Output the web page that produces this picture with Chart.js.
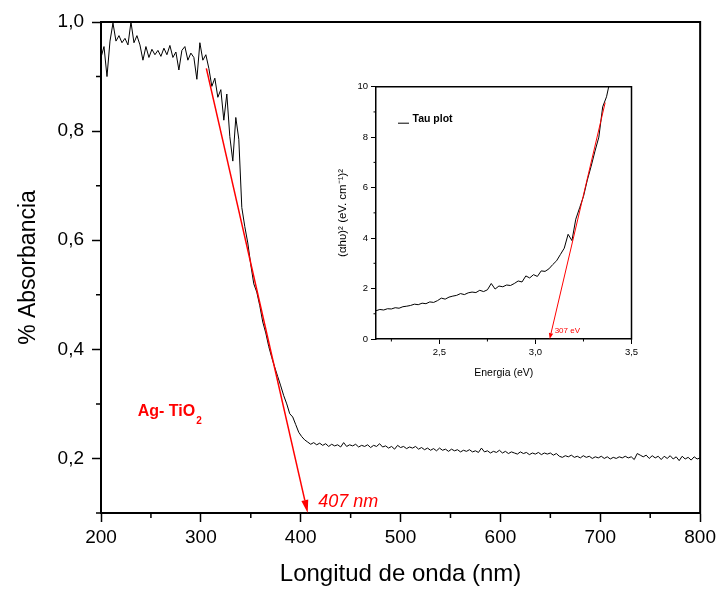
<!DOCTYPE html>
<html lang="es">
<head>
<meta charset="utf-8">
<title>Absorbancia Ag-TiO2</title>
<style>
  * { margin: 0; padding: 0; }
  body { background: #fff; width: 720px; height: 590px; position: relative; overflow: hidden; }
  #main { position: absolute; left: 0; top: 0; }
  #inset { position: absolute; left: 330px; top: 78px; }
</style>
</head>
<body>
<canvas id="main" width="720" height="590"></canvas>
<canvas id="inset" width="315" height="305"></canvas>
<script src="https://cdn.jsdelivr.net/npm/chart.js"></script>
<script>
const FONT = "'Liberation Sans', Arial, sans-serif";

// main spectrum: one reading every 3 nm from 200 nm
const wlStart = 200;
const wlStep = 3;
const absorbancia = [
  0.935, 0.955, 0.900, 0.965, 0.998, 0.965, 0.975, 0.962, 0.970, 0.958,
  1.000, 0.962, 0.975, 0.958, 0.930, 0.955, 0.935, 0.950, 0.940, 0.948,
  0.937, 0.952, 0.940, 0.957, 0.935, 0.945, 0.912, 0.948, 0.955, 0.930,
  0.943, 0.935, 0.895, 0.962, 0.930, 0.940, 0.915, 0.882, 0.897, 0.862,
  0.876, 0.820, 0.868, 0.790, 0.745, 0.825, 0.785, 0.660, 0.625, 0.595,
  0.555, 0.520, 0.505, 0.480, 0.450, 0.430, 0.405, 0.385, 0.367, 0.350,
  0.333, 0.315, 0.300, 0.282, 0.276, 0.262, 0.248, 0.240, 0.234, 0.230,
  0.226, 0.229, 0.225, 0.228, 0.224, 0.227, 0.222, 0.226, 0.223, 0.225,
  0.221, 0.229, 0.222, 0.225, 0.223, 0.226, 0.221, 0.224, 0.222, 0.225,
  0.220, 0.224, 0.222, 0.227, 0.221, 0.223, 0.219, 0.222, 0.217, 0.224,
  0.220, 0.222, 0.218, 0.221, 0.219, 0.222, 0.217, 0.220, 0.216, 0.219,
  0.215, 0.218, 0.214, 0.219, 0.215, 0.217, 0.213, 0.217, 0.214, 0.216,
  0.212, 0.215, 0.213, 0.216, 0.212, 0.214, 0.211, 0.219, 0.212, 0.214,
  0.210, 0.213, 0.211, 0.215, 0.210, 0.213, 0.209, 0.212, 0.210, 0.208,
  0.212, 0.209, 0.211, 0.207, 0.210, 0.208, 0.211, 0.207, 0.210, 0.208,
  0.210, 0.206, 0.209, 0.204, 0.202, 0.205, 0.203, 0.206, 0.202, 0.204,
  0.201, 0.205, 0.202, 0.204, 0.200, 0.203, 0.201, 0.204, 0.200, 0.203,
  0.199, 0.202, 0.200, 0.203, 0.201, 0.204, 0.201, 0.203, 0.198, 0.209,
  0.206, 0.203, 0.206, 0.200, 0.205, 0.201, 0.204, 0.198, 0.204, 0.200,
  0.205, 0.199, 0.203, 0.196, 0.204, 0.199, 0.202, 0.197, 0.203, 0.199,
  0.201
];
const xTicks = [200, 300, 400, 500, 600, 700, 800];
const xMinor = [250, 350, 450, 550, 650, 750];
const yTicks = [0.2, 0.4, 0.6, 0.8, 1.0];
const yMinor = [0.1, 0.3, 0.5, 0.7, 0.9];
const fitMain = [[305.5, 0.915], [407, 0.1]];
const fitMainLabel = "407 nm";
const sampleName = ["Ag- TiO", "2"];

// inset (Tau plot): one reading every 0.02 eV from 2.17 eV
const eStart = 2.17;
const eStep = 0.02;
const tauValues = [
  1.12, 1.17, 1.15, 1.20, 1.19, 1.24, 1.22, 1.28, 1.30, 1.33,
  1.38, 1.36, 1.42, 1.40, 1.47, 1.45, 1.52, 1.62, 1.58, 1.66,
  1.70, 1.73, 1.80, 1.76, 1.83, 1.86, 1.84, 1.93, 1.88, 1.95,
  2.20, 1.98, 2.10, 2.07, 2.14, 2.12, 2.20, 2.30, 2.26, 2.50,
  2.42, 2.55, 2.48, 2.70, 2.68, 2.78, 2.95, 3.10, 3.35, 3.60,
  4.15, 3.90, 4.75, 5.20, 5.65, 6.30, 6.85, 7.45, 8.00, 9.20,
  9.60, 10.30
];
const insetXTicks = [2.5, 3.0, 3.5];
const insetXMinor = [2.25, 2.75, 3.25];
const insetYTicks = [0, 2, 4, 6, 8, 10];
const insetYMinor = [1, 3, 5, 7, 9];
const fitInset = [[3.363, 9.37], [3.074, 0]];
const fitInsetLabel = "307 eV";

const comma = (v, d) => v.toFixed(d).replace(".", ",");

function drawArrow(ctx, x1, y1, x2, y2, len, half) {
  const ang = Math.atan2(y2 - y1, x2 - x1);
  const bx = x2 - len * Math.cos(ang), by = y2 - len * Math.sin(ang);
  ctx.beginPath();
  ctx.moveTo(x1, y1);
  ctx.lineTo(bx, by);
  ctx.stroke();
  ctx.beginPath();
  ctx.moveTo(x2, y2);
  ctx.lineTo(bx + half * Math.sin(ang), by - half * Math.cos(ang));
  ctx.lineTo(bx - half * Math.sin(ang), by + half * Math.cos(ang));
  ctx.closePath();
  ctx.fill();
}

// top/right frame lines and minor ticks, shared by both charts
const frameTicks = {
  id: "frameTicks",
  afterDraw(chart, args, opts) {
    const { ctx, chartArea: a, scales: { x, y } } = chart;
    ctx.save();
    ctx.strokeStyle = "#000";
    ctx.lineWidth = opts.frame;
    ctx.beginPath();
    ctx.moveTo(a.left - opts.frame / 2, a.top);
    ctx.lineTo(a.right, a.top);
    ctx.lineTo(a.right, a.bottom + opts.frame / 2);
    ctx.stroke();
    ctx.lineWidth = opts.tick;
    ctx.beginPath();
    opts.xMinor.forEach((v) => {
      const px = x.getPixelForValue(v);
      ctx.moveTo(px, a.bottom);
      ctx.lineTo(px, a.bottom + opts.minor);
    });
    opts.yMinor.forEach((v) => {
      const py = y.getPixelForValue(v);
      ctx.moveTo(a.left, py);
      ctx.lineTo(a.left - opts.minor, py);
    });
    ctx.stroke();
    ctx.restore();
  },
};

const mainNotes = {
  id: "mainNotes",
  afterDatasetsDraw(chart) {
    const { ctx, scales: { x, y } } = chart;
    ctx.save();
    ctx.strokeStyle = "#ff0000";
    ctx.fillStyle = "#ff0000";
    ctx.lineWidth = 1.5;
    drawArrow(ctx,
      x.getPixelForValue(fitMain[0][0]), y.getPixelForValue(fitMain[0][1]),
      x.getPixelForValue(fitMain[1][0]), y.getPixelForValue(fitMain[1][1]), 13, 3.5);
    ctx.font = "italic 18px " + FONT;
    ctx.textBaseline = "alphabetic";
    ctx.fillText(fitMainLabel, x.getPixelForValue(417.5), y.getPixelForValue(0.111));
    ctx.font = "bold 16px " + FONT;
    const sx = x.getPixelForValue(236.8), sy = y.getPixelForValue(0.278);
    ctx.fillText(sampleName[0], sx, sy);
    const w = ctx.measureText(sampleName[0]).width;
    ctx.font = "bold 10px " + FONT;
    ctx.fillText(sampleName[1], sx + w + 1, sy + 8);
    ctx.restore();
  },
};

const insetNotes = {
  id: "insetNotes",
  afterDatasetsDraw(chart) {
    const { ctx, chartArea: a, scales: { x, y } } = chart;
    ctx.save();
    ctx.strokeStyle = "#ff0000";
    ctx.fillStyle = "#ff0000";
    ctx.lineWidth = 1;
    drawArrow(ctx,
      x.getPixelForValue(fitInset[0][0]), y.getPixelForValue(fitInset[0][1]),
      x.getPixelForValue(fitInset[1][0]), y.getPixelForValue(fitInset[1][1]), 6, 2.2);
    ctx.font = "8px " + FONT;
    ctx.fillText(fitInsetLabel, x.getPixelForValue(3.1), y.getPixelForValue(0.22));
    // legend
    ctx.strokeStyle = "#000";
    ctx.fillStyle = "#000";
    ctx.lineWidth = 1;
    ctx.beginPath();
    ctx.moveTo(a.left + 22, a.top + 36.5);
    ctx.lineTo(a.left + 33, a.top + 36.5);
    ctx.stroke();
    ctx.font = "bold 10.5px " + FONT;
    ctx.fillText(chart.data.datasets[0].label, a.left + 36.5, a.top + 35.5);
    ctx.restore();
  },
};

function axis(opts) {
  return {
    type: "linear",
    min: opts.min,
    max: opts.max,
    afterBuildTicks: (s) => { s.ticks = opts.ticks.map((v) => ({ value: v })); },
    afterFit: opts.fit,
    grid: { drawOnChartArea: false, tickLength: opts.tickLen, tickWidth: opts.tickW, tickColor: "#000" },
    border: { color: "#000", width: opts.border },
    ticks: {
      color: "#000",
      font: { family: FONT, size: opts.tickFont },
      padding: opts.pad,
      maxRotation: 0,
      autoSkip: false,
      callback: opts.label,
    },
    title: {
      display: true,
      text: opts.title,
      color: "#000",
      font: { family: FONT, size: opts.titleFont },
      padding: opts.titlePad,
    },
  };
}

new Chart(document.getElementById("main"), {
  type: "line",
  data: {
    datasets: [{
      label: "Ag- TiO2",
      data: absorbancia.map((v, i) => ({ x: wlStart + i * wlStep, y: v })),
      borderColor: "#000",
      borderWidth: 1,
      pointRadius: 0,
      fill: false,
    }],
  },
  options: {
    responsive: false,
    animation: false,
    layout: { padding: { left: 0, top: 22, right: 18, bottom: 0 } },
    plugins: {
      legend: { display: false },
      tooltip: { enabled: false },
      frameTicks: { frame: 2, tick: 1.5, minor: 5, xMinor: xMinor, yMinor: yMinor },
    },
    scales: {
      x: axis({
        min: 200, max: 800, ticks: xTicks, fit: (s) => { s.height = 77; },
        tickLen: 9, tickW: 1.5, border: 2, tickFont: 19, pad: 4,
        label: (v) => String(v), title: "Longitud de onda (nm)", titleFont: 24,
        titlePad: { top: 0, bottom: 1 },
      }),
      y: axis({
        min: 0.1, max: 1.0, ticks: yTicks, fit: (s) => { s.width = 101; },
        tickLen: 9, tickW: 1.5, border: 2, tickFont: 19, pad: 8,
        label: (v) => comma(v, 1), title: "% Absorbancia", titleFont: 23,
        titlePad: { top: 15, bottom: 0 },
      }),
    },
  },
  plugins: [frameTicks, mainNotes],
});

new Chart(document.getElementById("inset"), {
  type: "line",
  data: {
    datasets: [{
      label: "Tau plot",
      data: tauValues.map((v, i) => ({ x: eStart + i * eStep, y: v })),
      borderColor: "#000",
      borderWidth: 1,
      pointRadius: 0,
      fill: false,
    }],
  },
  options: {
    responsive: false,
    animation: false,
    layout: { padding: { left: 0, top: 7.5, right: 13.5, bottom: 0 } },
    plugins: {
      legend: { display: false },
      tooltip: { enabled: false },
      frameTicks: { frame: 1.5, tick: 1, minor: 2.5, xMinor: insetXMinor, yMinor: insetYMinor },
    },
    scales: {
      x: axis({
        min: 2.17, max: 3.5, ticks: insetXTicks, fit: (s) => { s.height = 44; },
        tickLen: 5, tickW: 1, border: 1.5, tickFont: 9.5, pad: 3,
        label: (v) => comma(v, 1), title: "Energia (eV)", titleFont: 10.5,
        titlePad: { top: 0, bottom: 4 },
      }),
      y: axis({
        min: 0, max: 10, ticks: insetYTicks, fit: (s) => { s.width = 46; },
        tickLen: 5, tickW: 1, border: 1.5, tickFont: 9.5, pad: 3,
        label: (v) => String(v), title: "(\u03b1h\u03c5)\u00b2 (eV. cm\u207b\u00b9)\u00b2", titleFont: 11.5,
        titlePad: { top: 6, bottom: 0 },
      }),
    },
  },
  plugins: [frameTicks, insetNotes],
});
</script>
</body>
</html>
